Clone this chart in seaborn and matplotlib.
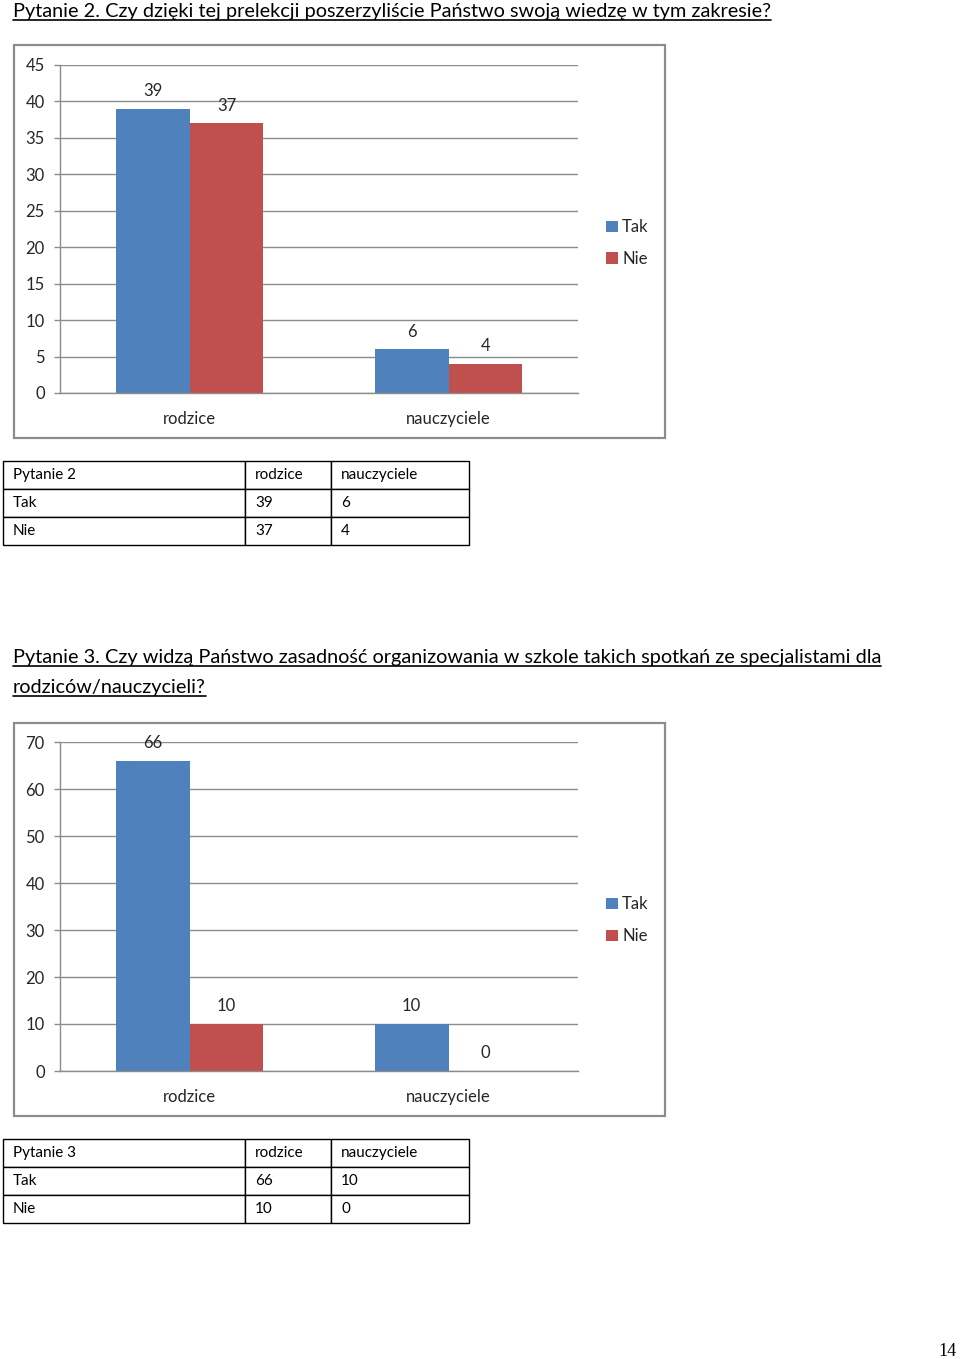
import matplotlib
matplotlib.use("Agg")
import matplotlib.pyplot as plt
from matplotlib.patches import Rectangle, Patch
from matplotlib.lines import Line2D
import seaborn as sns
import pandas as pd

# ---- data ----
groups = ["rodzice", "nauczyciele"]
answers = ["Tak", "Nie"]
q2_tak = [39, 6]
q2_nie = [37, 4]
q3_tak = [66, 10]
q3_nie = [10, 0]
q2_title = "Pytanie 2. Czy dzięki tej prelekcji poszerzyliście Państwo swoją wiedzę w tym zakresie?"
q3_title_1 = "Pytanie 3. Czy widzą Państwo zasadność organizowania w szkole takich spotkań ze specjalistami dla"
q3_title_2 = "rodziców/nauczycieli?"
q2_ticks = [0, 5, 10, 15, 20, 25, 30, 35, 40, 45]
q3_ticks = [0, 10, 20, 30, 40, 50, 60, 70]
page_no = "14"

BLUE = "#4F81BD"
RED = "#C0504D"
GRID = "#8c8c8c"
TXT = "#262626"

sns.set_theme(style="white")
plt.rcParams["font.family"] = ["Lato", "DejaVu Sans"]

W, H = 960, 1359
fig = plt.figure(figsize=(W / 100, H / 100), dpi=100)
fig.patch.set_facecolor("white")


def rect(x0, y0, x1, y1):
    return [x0 / W, 1 - y1 / H, (x1 - x0) / W, (y1 - y0) / H]


def fx(x):
    return x / W


def fy(y):
    return 1 - y / H


def underlined(x, ybase, s, target_w, size=14):
    t = fig.text(fx(x), fy(ybase), s, fontsize=size, va="baseline", ha="left", color="black")
    fig.canvas.draw()
    bb = t.get_window_extent()
    t.set_fontsize(size * target_w / bb.width)
    fig.canvas.draw()
    bb = t.get_window_extent()
    fig.add_artist(Line2D([bb.x0 / W, bb.x1 / W], [fy(ybase + 3)] * 2,
                          transform=fig.transFigure, color="black", lw=1.2))
    return t


def chart(frame, area, tak, nie, ticks, ymax, legend_y):
    x0, y0, x1, y1 = frame
    fig.add_artist(Rectangle((fx(x0), fy(y1)), (x1 - x0) / W, (y1 - y0) / H,
                             transform=fig.transFigure, fill=False, ec="#8c8c8c", lw=1.6))
    ax = fig.add_axes(rect(*area))
    df = pd.DataFrame({
        "grupa": groups * 2,
        "odp": [answers[0]] * len(groups) + [answers[1]] * len(groups),
        "wartosc": list(tak) + list(nie),
    })
    sns.barplot(data=df, x="grupa", y="wartosc", hue="odp", palette=[BLUE, RED],
                width=0.57, saturation=1, ax=ax, legend=False, errorbar=None,
                linewidth=0, edgecolor="none")
    ax.set_ylim(0, ymax)
    ax.set_xlim(-0.5, len(groups) - 0.5)
    ax.set_yticks(ticks)
    ax.set_yticklabels([str(t) for t in ticks], fontsize=12, color=TXT)
    ax.set_xticks(range(len(groups)))
    ax.set_xticklabels(groups, fontsize=12, color=TXT)
    ax.set_xticks([i - 0.5 for i in range(len(groups) + 1)], minor=True)
    ax.tick_params(axis="x", which="major", length=0, pad=13)
    ax.tick_params(axis="x", which="minor", length=5, width=1, color=GRID, direction="out")
    ax.tick_params(axis="y", which="major", length=4, width=1, color=GRID, direction="out",
                   left=True, pad=7)
    ax.yaxis.grid(True, color=GRID, lw=1)
    ax.set_axisbelow(True)
    for s in ["top", "right"]:
        ax.spines[s].set_visible(False)
    for s in ["left", "bottom"]:
        ax.spines[s].set_color(GRID)
        ax.spines[s].set_linewidth(1)
    ax.set_xlabel("")
    ax.set_ylabel("")
    for c in ax.containers:
        ax.bar_label(c, fmt="%d", padding=7, fontsize=12, color=TXT)
    handles = [Patch(facecolor=BLUE, edgecolor="none"), Patch(facecolor=RED, edgecolor="none")]
    fig.legend(handles, answers, loc="upper left", bbox_to_anchor=(fx(598), fy(legend_y)),
               frameon=False, fontsize=12, handlelength=0.7, handleheight=0.7,
               handletextpad=0.25, labelspacing=0.95, borderpad=0, labelcolor=TXT)
    return ax


def table(area, header, rows):
    ax = fig.add_axes(rect(*area))
    ax.axis("off")
    colw = [242, 86, 138]
    tot = sum(colw)
    cells = [header] + rows
    tb = ax.table(cellText=cells, cellLoc="left", colWidths=[c / tot for c in colw],
                  bbox=[0, 0, 1, 1])
    tb.auto_set_font_size(False)
    for (r, c), cell in tb.get_celld().items():
        cell.set_edgecolor("black")
        cell.set_linewidth(1)
        cell.PAD = 10 / colw[c]
        cell.get_text().set_fontsize(11)
        cell.get_text().set_color("black")
    return tb


# ---- headings ----
underlined(13, 17, q2_title, 759)
underlined(13, 663, q3_title_1, 873)
underlined(13, 693, q3_title_2, 194)

# ---- charts ----
chart((14, 45, 665, 438), (60, 65, 578, 393), q2_tak, q2_nie, q2_ticks, 45, 211)
chart((14, 723, 665, 1116), (60, 742, 578, 1071), q3_tak, q3_nie, q3_ticks, 70, 888)

# ---- tables ----
table((3, 461, 469, 545), ["Pytanie 2", groups[0], groups[1]],
      [[answers[0], str(q2_tak[0]), str(q2_tak[1])], [answers[1], str(q2_nie[0]), str(q2_nie[1])]])
table((3, 1139, 469, 1223), ["Pytanie 3", groups[0], groups[1]],
      [[answers[0], str(q3_tak[0]), str(q3_tak[1])], [answers[1], str(q3_nie[0]), str(q3_nie[1])]])

# ---- page number ----
fig.text(fx(957), fy(1352), page_no, ha="right", va="center", fontsize=13,
         family=["Liberation Serif", "DejaVu Serif"], color="black")

fig.savefig("out.png", dpi=100, facecolor="white")
